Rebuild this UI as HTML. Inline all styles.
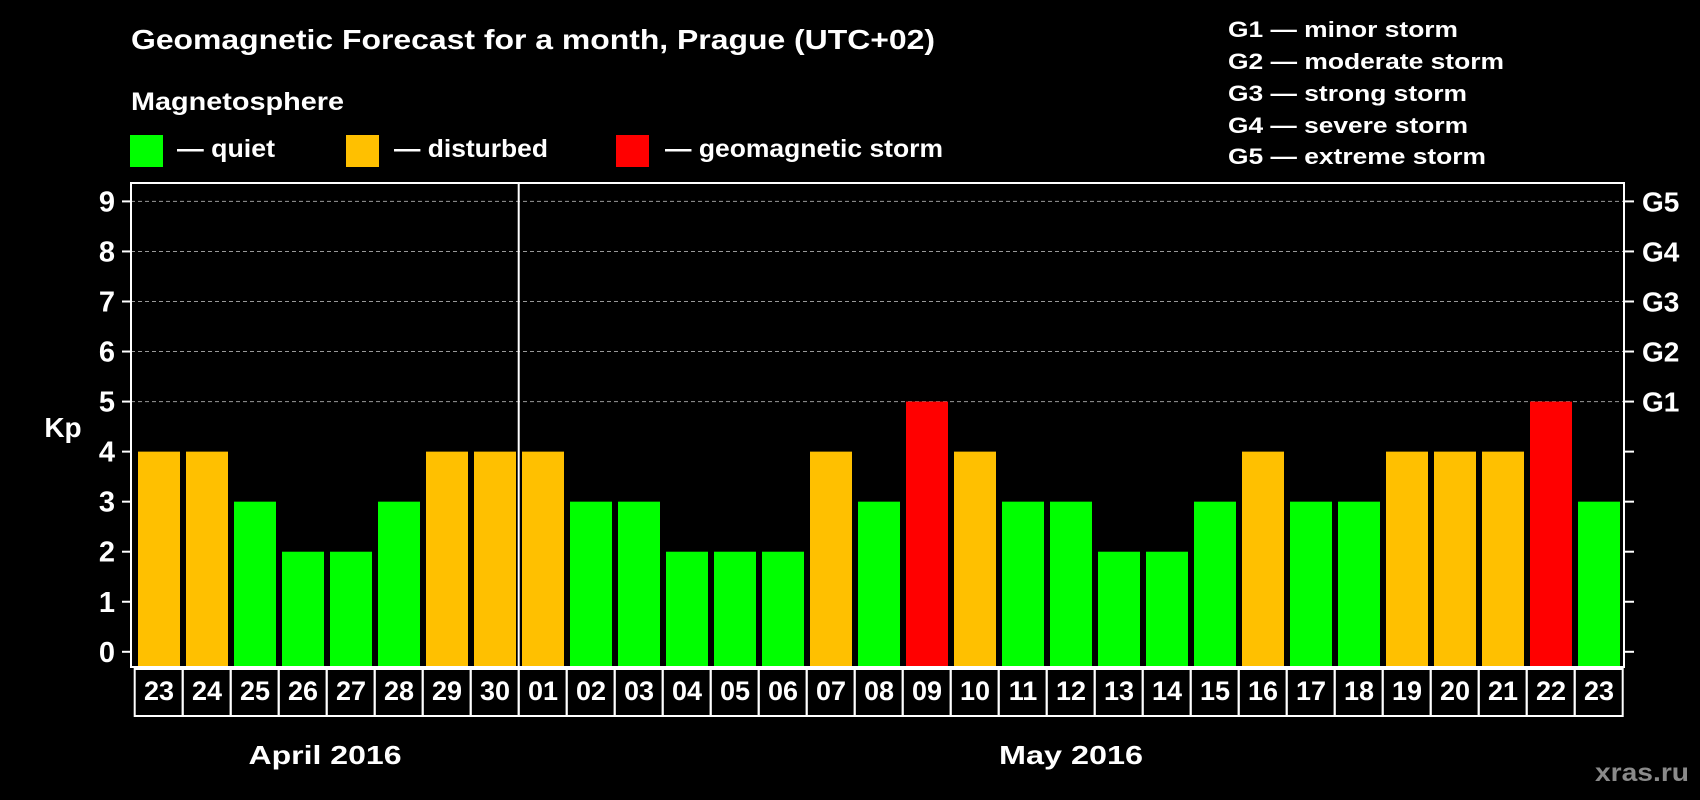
<!DOCTYPE html>
<html><head><meta charset="utf-8"><style>
html,body{margin:0;padding:0;background:#000;}
svg{display:block;font-family:"Liberation Sans",Arial,sans-serif;font-weight:bold;}
</style></head><body>
<svg id="chart" width="1700" height="800" viewBox="0 0 1700 800">
<rect x="0" y="0" width="1700" height="800" fill="#000"/>
<text x="131" y="49" fill="#fff" font-size="28" textLength="804" lengthAdjust="spacingAndGlyphs">Geomagnetic Forecast for a month, Prague (UTC+02)</text>
<text x="131" y="110" fill="#fff" font-size="25" textLength="213" lengthAdjust="spacingAndGlyphs">Magnetosphere</text>
<g>
<rect x="130" y="135" width="33" height="32" fill="#00ff00"/>
<text x="177" y="157" fill="#fff" font-size="25" textLength="98" lengthAdjust="spacingAndGlyphs">— quiet</text>
</g>
<g>
<rect x="346" y="135" width="33" height="32" fill="#ffc000"/>
<text x="394" y="157" fill="#fff" font-size="25" textLength="154" lengthAdjust="spacingAndGlyphs">— disturbed</text>
</g>
<g>
<rect x="616" y="135" width="33" height="32" fill="#ff0000"/>
<text x="665" y="157" fill="#fff" font-size="25" textLength="278" lengthAdjust="spacingAndGlyphs">— geomagnetic storm</text>
</g>
<g fill="#fff" font-size="22">
<text x="1228" y="37" textLength="230" lengthAdjust="spacingAndGlyphs">G1 — minor storm</text>
<text x="1228" y="69" textLength="276" lengthAdjust="spacingAndGlyphs">G2 — moderate storm</text>
<text x="1228" y="101" textLength="239" lengthAdjust="spacingAndGlyphs">G3 — strong storm</text>
<text x="1228" y="133" textLength="240" lengthAdjust="spacingAndGlyphs">G4 — severe storm</text>
<text x="1228" y="164" textLength="258" lengthAdjust="spacingAndGlyphs">G5 — extreme storm</text>
</g>
<text x="63" y="437" fill="#fff" font-size="28" text-anchor="middle">Kp</text>
<g id="plot"></g>
<text x="325" y="764" fill="#fff" font-size="26" text-anchor="middle" textLength="153" lengthAdjust="spacingAndGlyphs">April 2016</text>
<text x="1071" y="764" fill="#fff" font-size="26" text-anchor="middle" textLength="144" lengthAdjust="spacingAndGlyphs">May 2016</text>
<text x="1689" y="781" fill="#8a8a8a" font-size="25" text-anchor="end" textLength="94" lengthAdjust="spacingAndGlyphs">xras.ru</text>
</svg>
<script>
const days = ["23","24","25","26","27","28","29","30","01","02","03","04","05","06","07","08","09","10","11","12","13","14","15","16","17","18","19","20","21","22","23"];
const kpValues = [4,4,3,2,2,3,4,4,4,3,3,2,2,2,4,3,5,4,3,3,2,2,3,4,3,3,4,4,4,5,3];
const yTicks = [0,1,2,3,4,5,6,7,8,9];
const gLabels = ["G1","G2","G3","G4","G5"];
const gLevels = [5,6,7,8,9];
const monthBreakIndex = 8;

const NS = "http://www.w3.org/2000/svg";
const plot = document.getElementById("plot");
const L = 131, R = 1624, T = 183, B = 667;
const firstBarX = 138, step = 48, barW = 42;
function yScale(v){ return 651.8 - v * (651.8 - 201.4) / 9; }
function xScale(i){ return firstBarX + i * step; }
function colorFor(v){ return v >= 5 ? "#ff0000" : (v >= 4 ? "#ffc000" : "#00ff00"); }
function mk(tag, attrs){ const e = document.createElementNS(NS, tag); for (const k in attrs) e.setAttribute(k, attrs[k]); plot.appendChild(e); return e; }

yTicks.forEach(function(t){
  const y = yScale(t);
  if (t >= 5) {
    const g = mk("line", {x1:L, x2:R, y1:y, y2:y, stroke:"#999", "stroke-width":1, "stroke-dasharray":"4 3"});
    
    
  }
  const tk = mk("line", {x1:122, x2:L, y1:y, y2:y, stroke:"#fff", "stroke-width":2});
  
  
  const tr = mk("line", {x1:R, x2:1634, y1:y, y2:y, stroke:"#fff", "stroke-width":2});
  
  
  const lb = mk("text", {x:115, y:y + 10, fill:"#fff", "font-size":29, "text-anchor":"end"});
  lb.textContent = t;
  
  
});
gLabels.forEach(function(g, i){
  const t = mk("text", {x:1642, y:yScale(gLevels[i]) + 10, fill:"#fff", "font-size":28});
  t.textContent = g;
  
  
});
kpValues.forEach(function(v, i){
  const y = yScale(v);
  const r = mk("rect", {x:xScale(i), y:y, width:barW, height:B - y, fill:colorFor(v)});
  
  
  const bx = mk("rect", {x:xScale(i) - 3.3, y:669, width:step, height:47, fill:"none", stroke:"#fff", "stroke-width":2});
  
  
  const tx = mk("text", {x:xScale(i) + barW / 2, y:700, fill:"#fff", "font-size":27, "text-anchor":"middle"});
  tx.textContent = days[i];
  
  
});
const frame = mk("rect", {x:L, y:T, width:R - L, height:B - T, fill:"none", stroke:"#fff", "stroke-width":2});


const divX = xScale(monthBreakIndex) - 3.3;
const dv = mk("line", {x1:divX, x2:divX, y1:T, y2:B, stroke:"#fff", "stroke-width":2});


</script>
</body></html>
